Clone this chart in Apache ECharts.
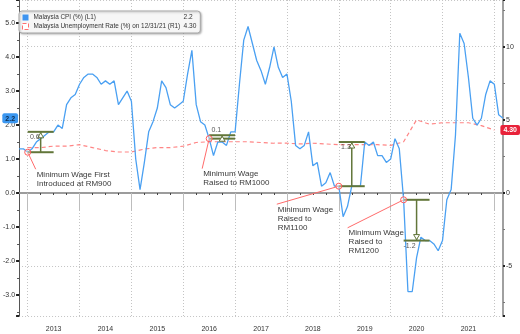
<!DOCTYPE html>
<html>
<head>
<meta charset="utf-8">
<script src="https://cdn.jsdelivr.net/npm/echarts@6/dist/echarts.min.js"></script>
<style>
  html, body { margin: 0; padding: 0; background: #fff; }
  #chart { width: 520px; height: 334px; }
</style>
</head>
<body>
<div id="chart"></div>
<script>
// Monthly categories (month-end observations), Oct 2012 .. Feb 2022
const firstMonth = [2012, 10];
const lastMonth = [2022, 2];
const months = [];
for (let y = firstMonth[0], m = firstMonth[1]; y < lastMonth[0] || (y === lastMonth[0] && m <= lastMonth[1]);) {
  months.push(y + '-' + String(m).padStart(2, '0'));
  m++; if (m > 12) { m = 1; y++; }
}

// Malaysia CPI, % YoY (left axis)
const cpi = [
  1.3, 1.3, 1.2,
  1.3, 1.5, 1.6, 1.7, 1.8, 1.8, 2.0, 1.9, 2.6, 2.8, 2.9, 3.2,
  3.4, 3.5, 3.5, 3.4, 3.2, 3.3, 3.2, 3.3, 2.6, 2.8, 3.0, 2.7,
  1.0, 0.1, 0.9, 1.8, 2.1, 2.5, 3.3, 3.1, 2.6, 2.5, 2.6, 2.7,
  3.5, 4.2, 2.6, 2.1, 2.0, 1.6, 1.1, 1.5, 1.5, 1.4, 1.8, 1.8,
  3.2, 4.5, 4.9, 4.4, 3.9, 3.6, 3.2, 3.7, 4.3, 3.7, 3.4, 3.5,
  2.7, 1.4, 1.3, 1.4, 1.8, 0.8, 0.9, 0.2, 0.3, 0.6, 0.2, 0.2,
  -0.7, -0.4, 0.2, 0.2, 0.2, 1.5, 1.4, 1.5, 1.1, 1.1, 0.9, 1.0,
  1.6, 1.3, -0.2, -2.9, -2.9, -1.9, -1.3, -1.4, -1.4, -1.5, -1.7, -1.4,
  -0.2, 0.1, 1.7, 4.7, 4.4, 3.4, 2.2, 2.0, 2.2, 2.9, 3.3, 3.2,
  2.3, 2.2
];

// Malaysia unemployment rate, %, quarterly (right axis)
const ueQuarters = [
  '2012-12',
  '2013-03', '2013-06', '2013-09', '2013-12',
  '2014-03', '2014-06', '2014-09', '2014-12',
  '2015-03', '2015-06', '2015-09', '2015-12',
  '2016-03', '2016-06', '2016-09', '2016-12',
  '2017-03', '2017-06', '2017-09', '2017-12',
  '2018-03', '2018-06', '2018-09', '2018-12',
  '2019-03', '2019-06', '2019-09', '2019-12',
  '2020-03', '2020-06', '2020-09', '2020-12',
  '2021-03', '2021-06', '2021-09', '2021-12'
];
const ueRate = [
  3.1,
  3.1, 3.2, 3.2, 3.3,
  3.1, 2.9, 2.8, 2.8,
  3.0, 3.1, 3.1, 3.2,
  3.45, 3.5, 3.5, 3.5,
  3.5, 3.45, 3.4, 3.4,
  3.35, 3.4, 3.35, 3.3,
  3.3, 3.3, 3.3, 3.25,
  3.5, 5.0, 4.7, 4.8,
  4.8, 4.8, 4.6, 4.3
];

// Minimum wage events and the CPI change measured over the following six months
const eventMonths = ['2012-12', '2016-06', '2018-12', '2020-03'];
const cpiChange = [0.6, 0.1, 1.3, -1.2];
const eventNotes = [
  ['Minimum Wage First', 'Introduced at RM900'],
  ['Minimum Wage', 'Raised to RM1000'],
  ['Minimum Wage', 'Raised to', 'RM1100'],
  ['Minimum Wage', 'Raised to', 'RM1200']
];

const cpiName = 'Malaysia CPI (%) (L1)';
const ueName = 'Malaysia Unemployment Rate (%) on 12/31/21 (R1)';
const lastCpi = cpi[cpi.length - 1];
const lastUe = ueRate[ueRate.length - 1];

const FONT = 'Liberation Sans';
const BLUE = '#4aa0f2';
const PINK = '#ff8585';
const OLIVE = '#62763a';
const MEASURE_SPAN = 6;

// where each note's text sits relative to its event marker (px)
const noteOffsets = [[8, 17], [-7, 30], [-62, 18], [-56, 28]];

const eventData = eventMonths.map((m, k) => {
  const i = months.indexOf(m);
  const from = cpi[i];
  return [i, from, +(from + cpiChange[k]).toFixed(2), k];
});

function renderEvent(params, api) {
  const i = api.value(0), from = api.value(1), to = api.value(2), k = api.value(3);
  const pFrom = api.coord([i, from]);
  const pFromEnd = api.coord([i + MEASURE_SPAN, from]);
  const pTo = api.coord([i, to]);
  const pToEnd = api.coord([i + MEASURE_SPAN, to]);
  const xm = api.coord([i + MEASURE_SPAN / 2, to])[0];
  const up = to > from;
  const dir = up ? 1 : -1;
  const off = noteOffsets[k];
  const tx = pFrom[0] + off[0], ty = pFrom[1] + off[1];
  const small = Math.abs(pTo[1] - pFrom[1]) < 12;
  const labelY = small ? pTo[1] - 5 : pTo[1] + 5;
  const olive = { stroke: OLIVE, lineWidth: 2 };
  return {
    type: 'group',
    children: [
      { type: 'line', shape: { x1: pFrom[0], y1: pFrom[1], x2: pFromEnd[0], y2: pFromEnd[1] }, style: olive },
      { type: 'line', shape: { x1: pTo[0], y1: pTo[1], x2: pToEnd[0], y2: pToEnd[1] }, style: olive },
      { type: 'line', shape: { x1: xm, y1: pFrom[1], x2: xm, y2: pTo[1] }, style: { stroke: OLIVE, lineWidth: 1.5 } },
      { type: 'polygon', shape: { points: [[xm, pTo[1] + dir * 1], [xm - 3, pTo[1] + dir * 6], [xm + 3, pTo[1] + dir * 6]] },
        style: { fill: '#fff', stroke: OLIVE, lineWidth: 1 } },
      { type: 'text', style: { x: xm - 1, y: labelY, text: cpiChange[k].toFixed(1), fill: '#555',
        fontSize: 7, fontFamily: FONT, align: 'right', verticalAlign: 'middle' } },
      { type: 'line', shape: { x1: pFrom[0], y1: pFrom[1], x2: tx, y2: ty }, style: { stroke: '#ff6b6b', lineWidth: 1 } },
      { type: 'circle', shape: { cx: pFrom[0], cy: pFrom[1], r: 3 }, style: { fill: 'rgba(255,255,255,0.4)', stroke: '#ff5b5b', lineWidth: 1 } },
      { type: 'text', style: { x: tx + 1, y: ty + 1, text: eventNotes[k].join('\n'), fill: '#3a3a3a',
        fontSize: 8, lineHeight: 9, fontFamily: FONT, align: 'left', verticalAlign: 'top' } }
    ]
  };
}

function badge(value, digits, bg, fg) {
  return {
    show: true, type: 'none', value: value, status: 'show', triggerTooltip: false,
    label: {
      show: true, formatter: p => Number(p.value).toFixed(digits),
      backgroundColor: bg, color: fg, fontSize: 7, fontWeight: 'bold', fontFamily: FONT,
      padding: [2, 3, 1, 3], borderRadius: 2, margin: 1
    }
  };
}

const isMonth = mm => (idx, val) => val.slice(5) === mm;
const isQuarter = (idx, val) => ['03', '06', '09'].includes(val.slice(5));

const chart = echarts.init(document.getElementById('chart'), null, { renderer: 'canvas' });
chart.setOption({
  backgroundColor: '#fff',
  animation: false,
  textStyle: { fontFamily: FONT },
  axisPointer: { triggerOn: 'none' },
  grid: { left: 17, right: 17, top: 0, bottom: 18, containLabel: false },
  legend: {
    left: 19, top: 11, orient: 'vertical', selectedMode: false,
    itemWidth: 6, itemHeight: 6, itemGap: 2,
    padding: [3, 4, 3, 3],
    backgroundColor: '#f6f6f6', borderColor: '#a8a8a8', borderWidth: 1, borderRadius: 3,
    shadowColor: 'rgba(0,0,0,0.25)', shadowBlur: 2, shadowOffsetX: 1, shadowOffsetY: 1,
    data: [
      { name: cpiName, icon: 'rect', itemStyle: { color: '#3e94f0' } },
      { name: ueName, icon: 'rect', itemStyle: { color: '#fff', borderColor: '#ff6f6f', borderWidth: 1, borderType: 'dashed' } }
    ],
    formatter: name => '{n|' + name + '}{v|' + (name === cpiName ? lastCpi.toFixed(1) : lastUe.toFixed(2)) + '}',
    textStyle: {
      fontSize: 6.4, color: '#333', fontFamily: FONT,
      rich: { n: { width: 150, fontSize: 6.4, color: '#333', fontFamily: FONT }, v: { fontSize: 6.6, color: '#333', fontFamily: FONT } }
    }
  },
  xAxis: [
    {
      type: 'category', data: months, boundaryGap: false, position: 'bottom',
      axisLine: { lineStyle: { color: '#9c9c9c', width: 2 } },
      axisTick: { interval: isQuarter, length: 2, lineStyle: { color: '#444', width: 1 } },
      axisLabel: { interval: isMonth('06'), formatter: v => v.slice(0, 4), fontSize: 7, color: '#333', margin: 10, fontFamily: FONT },
      splitLine: { show: true, interval: isMonth('12'), lineStyle: { color: '#c4c4c4', type: [1, 2], width: 1 } }
    },
    {
      type: 'category', data: months, boundaryGap: false, position: 'bottom',
      axisLine: { show: false },
      axisTick: { interval: isMonth('12'), length: 18, lineStyle: { color: '#bdbdbd', width: 1 } },
      axisLabel: { show: false },
      splitLine: { show: false }
    }
  ],
  yAxis: [
    {
      type: 'value', position: 'left', min: -3.62, max: 5.68, splitNumber: 9,
      axisLine: { show: true, lineStyle: { color: '#555', width: 1 } },
      axisTick: { show: true, length: 3, lineStyle: { color: '#222', width: 2 } },
      minorTick: { show: true, splitNumber: 2, length: 2, lineStyle: { color: '#555' } },
      axisLabel: { formatter: v => v.toFixed(1), fontSize: 7, color: '#333', margin: 4, showMinLabel: false, showMaxLabel: false, fontFamily: FONT },
      splitLine: { show: false },
      axisPointer: badge(lastCpi, 1, '#3b97f0', '#0d2b4d')
    },
    {
      type: 'value', position: 'right', min: -8.41, max: 13.19, splitNumber: 4,
      axisLine: { show: true, lineStyle: { color: '#a0a0a0', width: 2 } },
      axisTick: { show: true, length: 2, lineStyle: { color: '#222', width: 2 } },
      minorTick: { show: true, splitNumber: 2, length: 2, lineStyle: { color: '#777' } },
      axisLabel: { fontSize: 7, color: '#333', margin: 3, showMinLabel: false, showMaxLabel: false, fontFamily: FONT },
      splitLine: { show: true, lineStyle: { color: '#c4c4c4', type: [1, 2], width: 1 } },
      axisPointer: badge(lastUe, 2, '#e8223a', '#fff')
    }
  ],
  series: [
    {
      name: ueName, type: 'line', yAxisIndex: 1, xAxisIndex: 0,
      data: ueQuarters.map((q, i) => [q, ueRate[i]]),
      symbol: 'none', z: 2,
      lineStyle: { color: PINK, width: 1.2, type: [4, 3] },
      itemStyle: { color: PINK }
    },
    {
      name: cpiName, type: 'line', yAxisIndex: 0, xAxisIndex: 0,
      data: cpi, symbol: 'none', z: 3,
      lineStyle: { color: BLUE, width: 1.3 },
      itemStyle: { color: BLUE }
    },
    {
      name: 'events', type: 'custom', yAxisIndex: 0, xAxisIndex: 0,
      data: eventData, renderItem: renderEvent, clip: false, z: 5, silent: true,
      encode: { x: 0, y: 1 }
    }
  ]
});
</script>
</body>
</html>
